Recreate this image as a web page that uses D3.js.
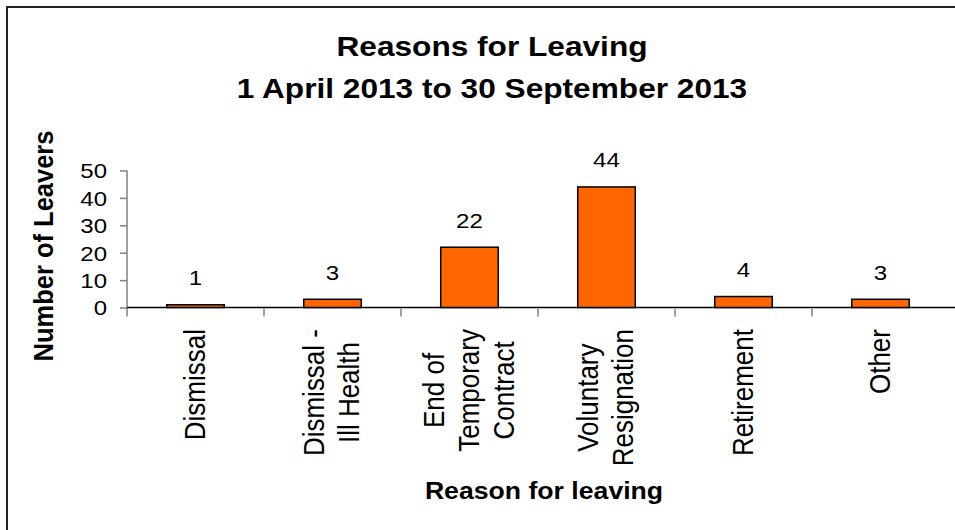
<!DOCTYPE html>
<html>
<head>
<meta charset="utf-8">
<script src="https://cdnjs.cloudflare.com/ajax/libs/d3/7.8.5/d3.min.js"></script>
<style>
  body { margin: 0; background: #fff; }
  text { font-family: "Liberation Sans", Arial, sans-serif; fill: #000; }
</style>
</head>
<body>
<script>
const width = 955;
const height = 530;

// data
const categories = ["Dismissal", "Dismissal - Ill Health", "End of Temporary Contract",
                    "Voluntary Resignation", "Retirement", "Other"];
const categoryLines = [["Dismissal"], ["Dismissal -", "Ill Health"], ["End of", "Temporary", "Contract"],
                       ["Voluntary", "Resignation"], ["Retirement"], ["Other"]];
const leavers = [1, 3, 22, 44, 4, 3];
const yTicks = [0, 10, 20, 30, 40, 50];
const titleLines = ["Reasons for Leaving", "1 April 2013 to 30 September 2013"];

const svg = d3.select("body").append("svg")
    .attr("width", width).attr("height", height);

// frame (runs off the right and bottom edges)
svg.append("rect")
    .attr("x", 7).attr("y", 7)
    .attr("width", width + 20).attr("height", height + 20)
    .style("fill", "none").style("stroke", "#222").style("stroke-width", 2);

const plot = { left: 127, right: 949, top: 170.5, bottom: 307.5 };

const x = d3.scaleBand().domain(categories).range([plot.left, plot.right]);
const y = d3.scaleLinear().domain([0, 50]).range([plot.bottom, plot.top]);

// the source picture is wider than it should be, so text gets a small x stretch
function stretched(sel, px, py, sx, extra) {
    return sel.attr("transform", `translate(${px},${py}) scale(${sx},1)` + (extra || ""));
}

// title
titleLines.forEach((t, i) => {
    stretched(svg.append("text"), 492, 56 + i * 42, 1.13)
        .attr("text-anchor", "middle")
        .style("font-size", "28px").style("font-weight", "bold")
        .text(t);
});

// y axis
const yAxis = svg.append("g")
    .attr("transform", `translate(${plot.left},0)`)
    .call(d3.axisLeft(y).tickValues(yTicks).tickSize(7).tickFormat(d3.format("d")));
yAxis.select(".domain").attr("stroke", "#808080").attr("stroke-width", 1.5)
    .attr("d", `M0,${plot.top}V${plot.bottom + 9}`);
yAxis.selectAll(".tick line").attr("stroke", "#808080").attr("stroke-width", 1.5);
yAxis.selectAll(".tick text").each(function () {
    stretched(d3.select(this), -20, 7.3, 1.2)
        .attr("x", null).attr("dy", null)
        .attr("text-anchor", "end")
        .style("font-size", "20px").style("font-family", "'Liberation Sans', Arial, sans-serif");
});

// x axis
const xAxis = svg.append("g")
    .attr("transform", `translate(0,${plot.bottom})`)
    .call(d3.axisBottom(x).tickSize(0).tickFormat(""));
xAxis.select(".domain").attr("stroke", "#000").attr("stroke-width", 1.5)
    .attr("d", `M${plot.left},0H${width}`);
xAxis.selectAll(".tick").remove();
xAxis.selectAll(".sep")
    .data(categories.slice(1))
    .join("line")
    .attr("class", "sep")
    .attr("x1", d => x(d)).attr("x2", d => x(d))
    .attr("y1", 1).attr("y2", 9)
    .attr("stroke", "#808080").attr("stroke-width", 1.5);

// bars
const barW = x.bandwidth() * 0.42;
svg.selectAll("rect.bar")
    .data(leavers)
    .join("rect")
    .attr("class", "bar")
    .attr("x", (d, i) => x(categories[i]) + (x.bandwidth() - barW) / 2)
    .attr("y", d => y(d))
    .attr("width", barW)
    .attr("height", d => y(0) - y(d))
    .style("fill", "#FF6600").style("stroke", "#000").style("stroke-width", 1.5);

// value labels
svg.selectAll("text.val")
    .data(leavers)
    .join("text")
    .attr("class", "val")
    .attr("text-anchor", "middle")
    .style("font-size", "21px")
    .each(function (d, i) {
        stretched(d3.select(this), x(categories[i]) + x.bandwidth() / 2, y(d) - 19.5, 1.15);
    })
    .text(d => d);

// category labels, rotated; block hangs from the top, lines centred in it
const labelTop = 329;
const lineGap = 35;
categoryLines.forEach((lines, i) => {
    const cx = x(categories[i]) + x.bandwidth() / 2;
    const g = svg.append("g");
    const texts = lines.map(l => g.append("text")
        .attr("text-anchor", "middle")
        .style("font-size", "26px")
        .text(l));
    const maxW = d3.max(texts, t => t.node().getComputedTextLength());
    texts.forEach((t, j) => {
        const off = (j - (lines.length - 1) / 2) * lineGap;
        stretched(t, cx + off + 9, labelTop + maxW / 2, 1.14, " rotate(-90)");
    });
});

// axis titles
stretched(svg.append("text"), 53, 246, 1.1, " rotate(-90)")
    .attr("text-anchor", "middle")
    .style("font-size", "25.5px").style("font-weight", "bold")
    .text("Number of Leavers");

stretched(svg.append("text"), 544, 499, 1.11)
    .attr("text-anchor", "middle")
    .style("font-size", "24px").style("font-weight", "bold")
    .text("Reason for leaving");
</script>
</body>
</html>
